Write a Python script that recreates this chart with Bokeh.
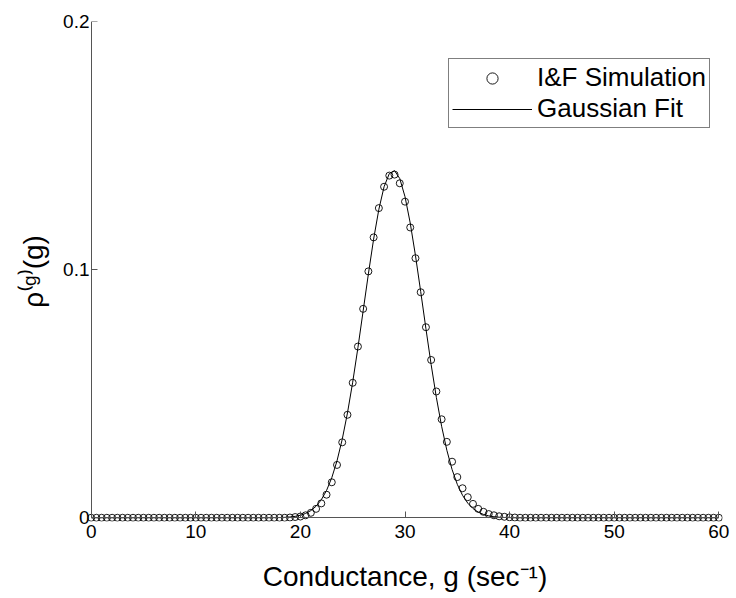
from bokeh.plotting import figure
from bokeh.models import Range1d, FixedTicker, Legend, LegendItem, LinearAxis
from bokeh.embed import file_html
from bokeh.resources import INLINE

# ---------------- data ----------------
conductance = [
    0.0, 0.5, 1.0, 1.5, 2.0, 2.5, 3.0, 3.5, 4.0, 4.5,
    5.0, 5.5, 6.0, 6.5, 7.0, 7.5, 8.0, 8.5, 9.0, 9.5,
    10.0, 10.5, 11.0, 11.5, 12.0, 12.5, 13.0, 13.5, 14.0, 14.5,
    15.0, 15.5, 16.0, 16.5, 17.0, 17.5, 18.0, 18.5, 19.0, 19.5,
    20.0, 20.5, 21.0, 21.5, 22.0, 22.5, 23.0, 23.5, 24.0, 24.5,
    25.0, 25.5, 26.0, 26.5, 27.0, 27.5, 28.0, 28.5, 29.0, 29.5,
    30.0, 30.5, 31.0, 31.5, 32.0, 32.5, 33.0, 33.5, 34.0, 34.5,
    35.0, 35.5, 36.0, 36.5, 37.0, 37.5, 38.0, 38.5, 39.0, 39.5,
    40.0, 40.5, 41.0, 41.5, 42.0, 42.5, 43.0, 43.5, 44.0, 44.5,
    45.0, 45.5, 46.0, 46.5, 47.0, 47.5, 48.0, 48.5, 49.0, 49.5,
    50.0, 50.5, 51.0, 51.5, 52.0, 52.5, 53.0, 53.5, 54.0, 54.5,
    55.0, 55.5, 56.0, 56.5, 57.0, 57.5, 58.0, 58.5, 59.0, 59.5,
    60.0,
]

sim_density = [
    0, 0, 0, 0, 0, 0, 0, 0, 0, 0,
    0, 0, 0, 0, 0, 0, 0, 0, 0, 0,
    0, 0, 0, 0, 0, 0, 0, 0, 0, 0,
    0, 0, 0, 0, 0, 0, 0, 0, 0.0001, 0.0003,
    0.0005, 0.0010, 0.0020, 0.0036, 0.0058, 0.0093, 0.0143, 0.0213, 0.0304, 0.0415,
    0.0544, 0.0690, 0.0842, 0.0993, 0.1130, 0.1248, 0.1334, 0.1379, 0.1383, 0.1348,
    0.1274, 0.1170, 0.1046, 0.0909, 0.0768, 0.0636, 0.0509, 0.0397, 0.0306, 0.0226,
    0.0164, 0.0119, 0.0083, 0.0056, 0.0036, 0.0024, 0.0015, 0.0010, 0.0006, 0.0004,
    0.0002, 0.0001, 0, 0, 0, 0, 0, 0, 0, 0,
    0, 0, 0, 0, 0, 0, 0, 0, 0, 0,
    0, 0, 0, 0, 0, 0, 0, 0, 0, 0,
    0, 0, 0, 0, 0, 0, 0, 0, 0, 0,
    0,
]

fit_density = [
    0, 0, 0, 0, 0, 0, 0, 0, 0, 0,
    0, 0, 0, 0, 0, 0, 0, 0, 0, 0,
    0, 0, 0, 0, 0, 0, 0, 0, 0, 0,
    0, 0, 0, 0, 0.00002, 0.00004, 0.00009, 0.00017, 0.00031, 0.00057,
    0.00101, 0.00174, 0.00289, 0.00465, 0.00727, 0.01100, 0.01613, 0.02293, 0.03161, 0.04221,
    0.05464, 0.06856, 0.08337, 0.09827, 0.1123, 0.1243, 0.1334, 0.1387, 0.1399, 0.1367,
    0.1294, 0.1188, 0.1057, 0.09117, 0.07619, 0.06173, 0.04845, 0.03688, 0.02721, 0.01945,
    0.01347, 0.00905, 0.00589, 0.00372, 0.00227, 0.00135, 0.00077, 0.00043, 0.00023, 0.00012,
    0.00006, 0, 0, 0, 0, 0, 0, 0, 0, 0,
    0, 0, 0, 0, 0, 0, 0, 0, 0, 0,
    0, 0, 0, 0, 0, 0, 0, 0, 0, 0,
    0, 0, 0, 0, 0, 0, 0, 0, 0, 0,
    0,
]

x_ticks = [0, 10, 20, 30, 40, 50, 60]
y_ticks = [0, 0.1, 0.2]
y_tick_labels = ["0", "0.1", "0.2"]
series_labels = ["I&F Simulation", "Gaussian Fit"]
x_title = "Conductance, g (sec\u207b\u00b9)"
y_title = "\u03c1\u207d\u1d4d\u207e(g)"

# ---------------- figure ----------------
FONT = "Liberation Sans"
AX_COLOR = "#555555"
X_LIMITS = (0, 60)
Y_LIMITS = (0, 0.2)

p = figure(width=736, height=598, output_backend="svg", toolbar_location=None,
           x_range=Range1d(-0.35, 60.35), y_range=Range1d(-0.0015, 0.2),
           x_axis_location=None, y_axis_location=None,
           min_border_left=87, min_border_right=14,
           min_border_top=21, min_border_bottom=77)
p.outline_line_color = None
p.grid.visible = False
p.background_fill_color = "white"
p.border_fill_color = "white"

r_sim = p.scatter(conductance, sim_density, marker="circle", size=7,
                  fill_color=None, line_color="black", line_width=0.9)
r_fit = p.line(conductance, fit_density, line_color="black", line_width=1)

# axis lines + inward ticks, drawn exactly at g = 0 and rho = 0
line_x = LinearAxis(fixed_location=0, bounds=X_LIMITS, ticker=FixedTicker(ticks=x_ticks),
                    major_label_overrides={t: "" for t in x_ticks},
                    major_label_text_font_size="0px", major_label_standoff=0)
line_y = LinearAxis(fixed_location=0, bounds=Y_LIMITS, ticker=FixedTicker(ticks=y_ticks),
                    major_label_overrides={t: "" for t in y_ticks},
                    major_label_text_font_size="0px", major_label_standoff=0)
for ax in (line_x, line_y):
    ax.axis_line_color = AX_COLOR
    ax.axis_line_width = 1
    ax.major_tick_line_color = AX_COLOR
    ax.major_tick_in = 0
    ax.major_tick_out = 6
    ax.minor_tick_line_color = None
p.add_layout(line_x, "above")
p.add_layout(line_y, "right")

# tick labels and titles
lab_x = LinearAxis(ticker=FixedTicker(ticks=x_ticks), axis_label=x_title,
                   major_label_standoff=3, axis_label_standoff=20)
lab_y = LinearAxis(ticker=FixedTicker(ticks=y_ticks), axis_label=y_title,
                   major_label_overrides={t: s for t, s in zip(y_ticks, y_tick_labels)},
                   major_label_standoff=-2, axis_label_standoff=11)
for ax in (lab_x, lab_y):
    ax.axis_line_color = None
    ax.major_tick_line_color = None
    ax.minor_tick_line_color = None
    ax.major_tick_in = 0
    ax.major_tick_out = 0
    ax.major_label_text_font = FONT
    ax.major_label_text_font_size = "19px"
    ax.major_label_text_color = "black"
    ax.axis_label_text_font = FONT
    ax.axis_label_text_font_size = "28px"
    ax.axis_label_text_font_style = "normal"
    ax.axis_label_text_color = "black"
p.add_layout(lab_x, "below")
p.add_layout(lab_y, "left")

legend = Legend(
    items=[LegendItem(label=series_labels[0], renderers=[r_sim]),
           LegendItem(label=series_labels[1], renderers=[r_fit])],
    location=(361, 393), margin=0, padding=3, spacing=0,
    glyph_width=80, glyph_height=28, label_height=28, label_standoff=5,
    label_text_font=FONT, label_text_font_size="26px", label_text_color="black",
    border_line_color="black", border_line_width=1,
    background_fill_color="white", background_fill_alpha=1.0,
)
p.add_layout(legend)

open("out.html", "w").write(file_html(p, INLINE))
